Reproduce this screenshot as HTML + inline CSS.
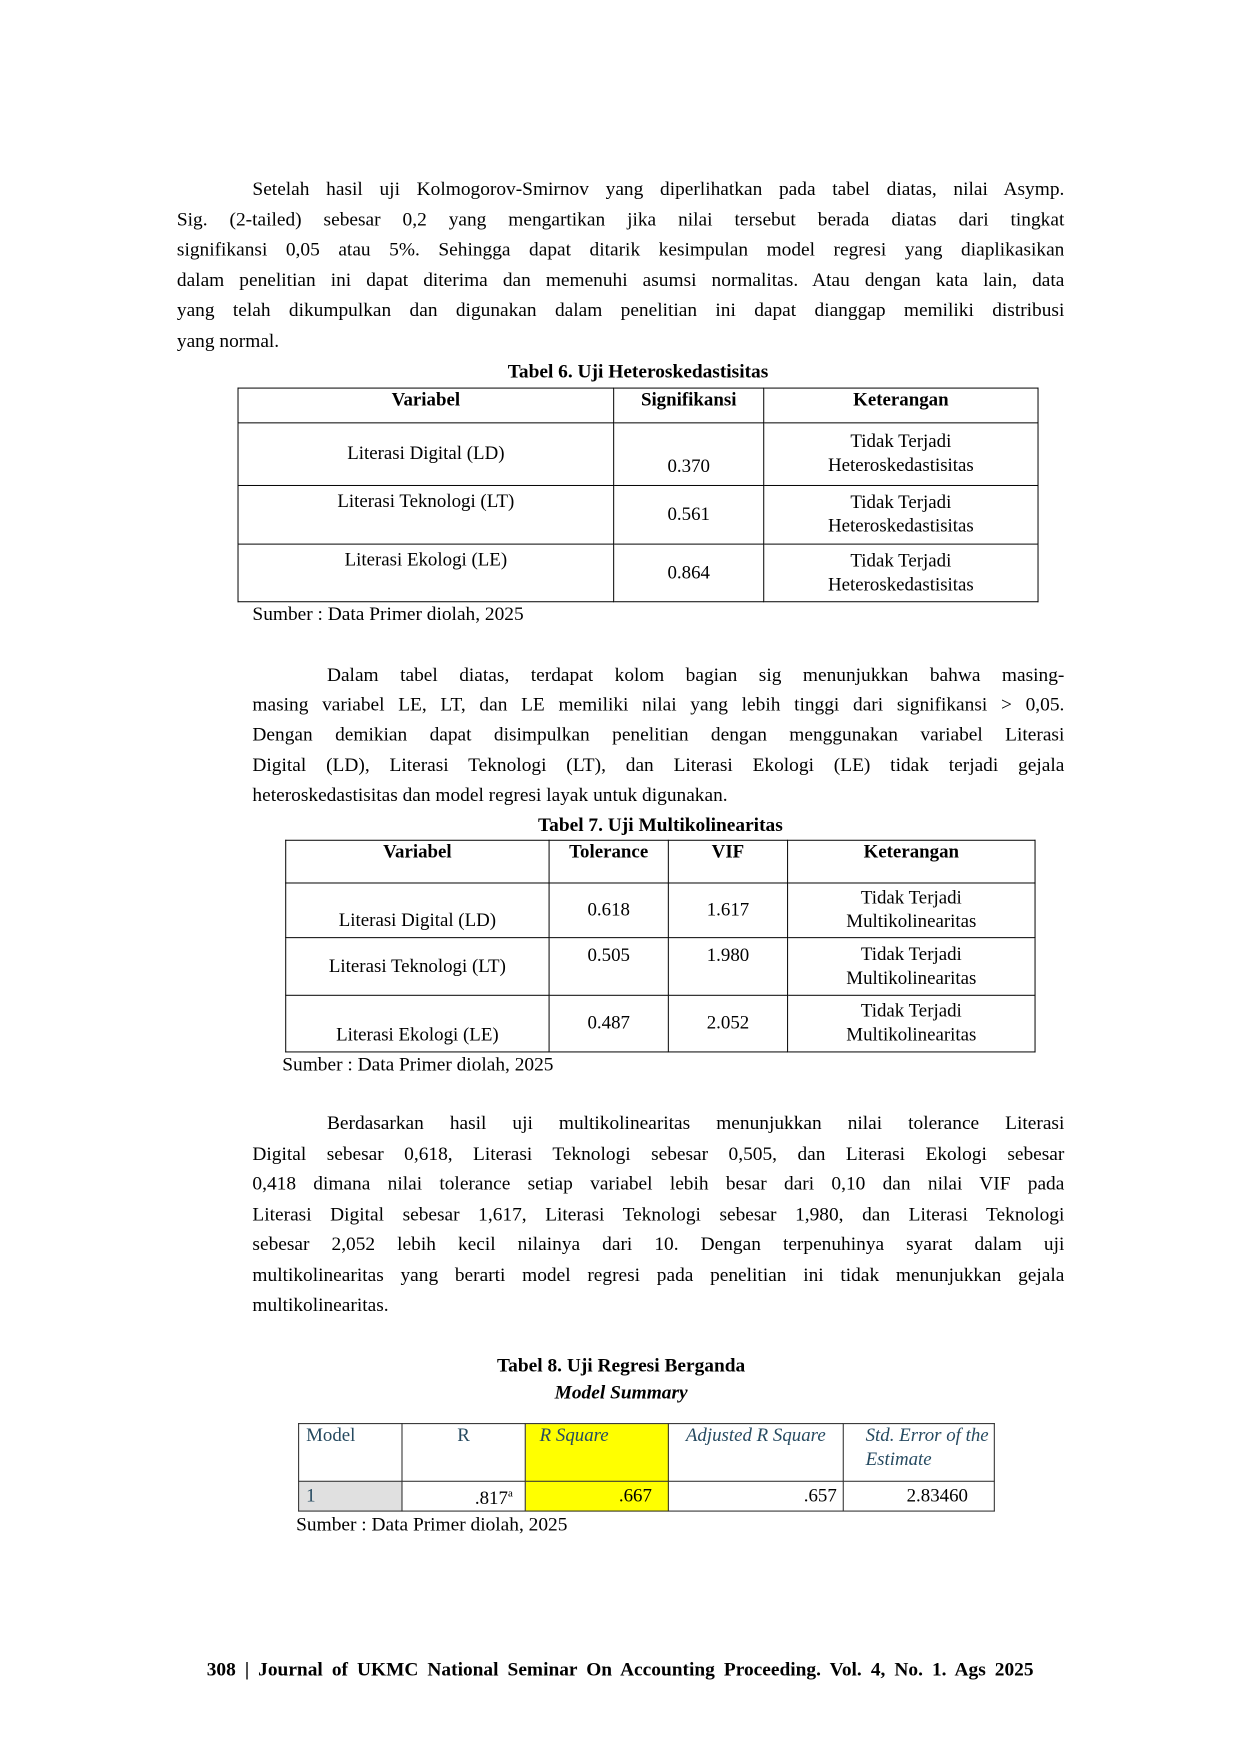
<!DOCTYPE html>
<html><head><meta charset="utf-8"><style>
body{margin:0;background:#fff;width:1240px;height:1754px;overflow:hidden;}
.pg{position:relative;width:1240px;height:1754px;font-family:"Liberation Serif",serif;font-size:19.5px;color:#000;transform:scale(0.9938);transform-origin:0 0;}
.l{position:absolute;white-space:nowrap;line-height:22px;}
.j{text-align:justify;text-align-last:justify;white-space:normal;}
.c{text-align:center;}
.b{font-weight:bold;}
table{position:absolute;border-collapse:collapse;font-size:19px;}
td{border:1.5px solid #000;padding:0;text-align:center;line-height:24px;}
.t8 td{border:1.5px solid #222;color:#264a60;}
</style></head><body><div class="pg">

<div class="l j" style="left:254px;width:817px;top:180px">Setelah hasil uji Kolmogorov-Smirnov yang diperlihatkan pada tabel diatas, nilai Asymp.</div>
<div class="l j" style="left:178px;width:893px;top:211px">Sig. (2-tailed) sebesar 0,2 yang mengartikan jika nilai tersebut berada diatas dari tingkat</div>
<div class="l j" style="left:178px;width:893px;top:241px">signifikansi 0,05 atau 5%. Sehingga dapat ditarik kesimpulan model regresi yang diaplikasikan</div>
<div class="l j" style="left:178px;width:893px;top:272px">dalam penelitian ini dapat diterima dan memenuhi asumsi normalitas. Atau dengan kata lain, data</div>
<div class="l j" style="left:178px;width:893px;top:302px">yang telah dikumpulkan dan digunakan dalam penelitian ini dapat dianggap memiliki distribusi</div>
<div class="l" style="left:178px;top:333px">yang normal.</div>

<div class="l c b" style="left:239px;width:806px;top:364px">Tabel 6. Uji Heteroskedastisitas</div>
<table style="left:239px;top:390px;width:806px">
<tr style="height:35px"><td class="b" style="width:377px;vertical-align:top">Variabel</td><td class="b" style="width:150px;vertical-align:top">Signifikansi</td><td class="b" style="vertical-align:top">Keterangan</td></tr>
<tr style="height:63px"><td>Literasi Digital (LD)</td><td style="vertical-align:bottom;padding-bottom:6px">0.370</td><td>Tidak Terjadi<br>Heteroskedastisitas</td></tr>
<tr style="height:59px"><td style="vertical-align:top;padding-top:4px">Literasi Teknologi (LT)</td><td>0.561</td><td>Tidak Terjadi<br>Heteroskedastisitas</td></tr>
<tr style="height:58px"><td style="vertical-align:top;padding-top:4px">Literasi Ekologi (LE)</td><td>0.864</td><td>Tidak Terjadi<br>Heteroskedastisitas</td></tr>
</table>
<div class="l" style="left:254px;top:608px">Sumber : Data Primer diolah, 2025</div>

<div class="l j" style="left:329px;width:742px;top:669px">Dalam tabel diatas, terdapat kolom bagian sig menunjukkan bahwa masing-</div>
<div class="l j" style="left:254px;width:817px;top:699px">masing variabel LE, LT, dan LE memiliki nilai yang lebih tinggi dari signifikansi &gt; 0,05.</div>
<div class="l j" style="left:254px;width:817px;top:729px">Dengan demikian dapat disimpulkan penelitian dengan menggunakan variabel Literasi</div>
<div class="l j" style="left:254px;width:817px;top:760px">Digital (LD), Literasi Teknologi (LT), dan Literasi Ekologi (LE) tidak terjadi gejala</div>
<div class="l" style="left:254px;top:790px">heteroskedastisitas dan model regresi layak untuk digunakan.</div>

<div class="l c b" style="left:287px;width:755px;top:820px">Tabel 7. Uji Multikolinearitas</div>
<table style="left:287px;top:845px;width:755px">
<tr style="height:43px"><td class="b" style="width:264px;vertical-align:top">Variabel</td><td class="b" style="width:119px;vertical-align:top">Tolerance</td><td class="b" style="width:119px;vertical-align:top">VIF</td><td class="b" style="vertical-align:top">Keterangan</td></tr>
<tr style="height:55px"><td style="vertical-align:bottom;padding-bottom:4px">Literasi Digital (LD)</td><td>0.618</td><td>1.617</td><td>Tidak Terjadi<br>Multikolinearitas</td></tr>
<tr style="height:58px"><td>Literasi Teknologi (LT)</td><td style="vertical-align:top;padding-top:6px">0.505</td><td style="vertical-align:top;padding-top:6px">1.980</td><td>Tidak Terjadi<br>Multikolinearitas</td></tr>
<tr style="height:57px"><td style="vertical-align:bottom;padding-bottom:4px">Literasi Ekologi (LE)</td><td>0.487</td><td>2.052</td><td>Tidak Terjadi<br>Multikolinearitas</td></tr>
</table>
<div class="l" style="left:284px;top:1061px">Sumber : Data Primer diolah, 2025</div>

<div class="l j" style="left:329px;width:742px;top:1120px">Berdasarkan hasil uji multikolinearitas menunjukkan nilai tolerance Literasi</div>
<div class="l j" style="left:254px;width:817px;top:1151px">Digital sebesar 0,618, Literasi Teknologi sebesar 0,505, dan Literasi Ekologi sebesar</div>
<div class="l j" style="left:254px;width:817px;top:1181px">0,418 dimana nilai tolerance setiap variabel lebih besar dari 0,10 dan nilai VIF pada</div>
<div class="l j" style="left:254px;width:817px;top:1212px">Literasi Digital sebesar 1,617, Literasi Teknologi sebesar 1,980, dan Literasi Teknologi</div>
<div class="l j" style="left:254px;width:817px;top:1242px">sebesar 2,052 lebih kecil nilainya dari 10. Dengan terpenuhinya syarat dalam uji</div>
<div class="l j" style="left:254px;width:817px;top:1273px">multikolinearitas yang berarti model regresi pada penelitian ini tidak menunjukkan gejala</div>
<div class="l" style="left:254px;top:1303px">multikolinearitas.</div>

<div class="l c b" style="left:300px;width:650px;top:1364px">Tabel 8. Uji Regresi Berganda</div>
<div class="l c b" style="left:300px;width:650px;top:1391px;font-style:italic">Model Summary</div>
<table class="t8" style="left:300px;top:1432px;width:701px">
<tr style="height:58px"><td style="width:96px;text-align:left;vertical-align:top;padding-left:7px">Model</td><td style="width:123px;vertical-align:top">R</td><td style="width:129px;vertical-align:top;background:#ffff00;font-style:italic;text-align:left;padding-left:14px">R Square</td><td style="width:175px;vertical-align:top;font-style:italic">Adjusted R Square</td><td style="vertical-align:top;font-style:italic;text-align:left;padding-left:22px">Std. Error of the<br>Estimate</td></tr>
<tr style="height:30px;color:#000"><td style="background:#e0e0e0;text-align:left;padding-left:7px">1</td><td style="text-align:right;padding-right:12px;color:#000">.817<sup style="font-size:11px">a</sup></td><td style="background:#ffff00;text-align:right;padding-right:16px;color:#000">.667</td><td style="text-align:right;padding-right:6px;color:#000">.657</td><td style="color:#000;text-align:right;padding-right:26px">2.83460</td></tr>
</table>
<div class="l" style="left:298px;top:1524px">Sumber : Data Primer diolah, 2025</div>

<div class="l b" style="left:208px;width:832px;top:1670px;text-align:justify;text-align-last:justify;white-space:normal">308 | Journal of UKMC National Seminar On Accounting Proceeding. Vol. 4, No. 1. Ags 2025</div>
</div></body></html>
